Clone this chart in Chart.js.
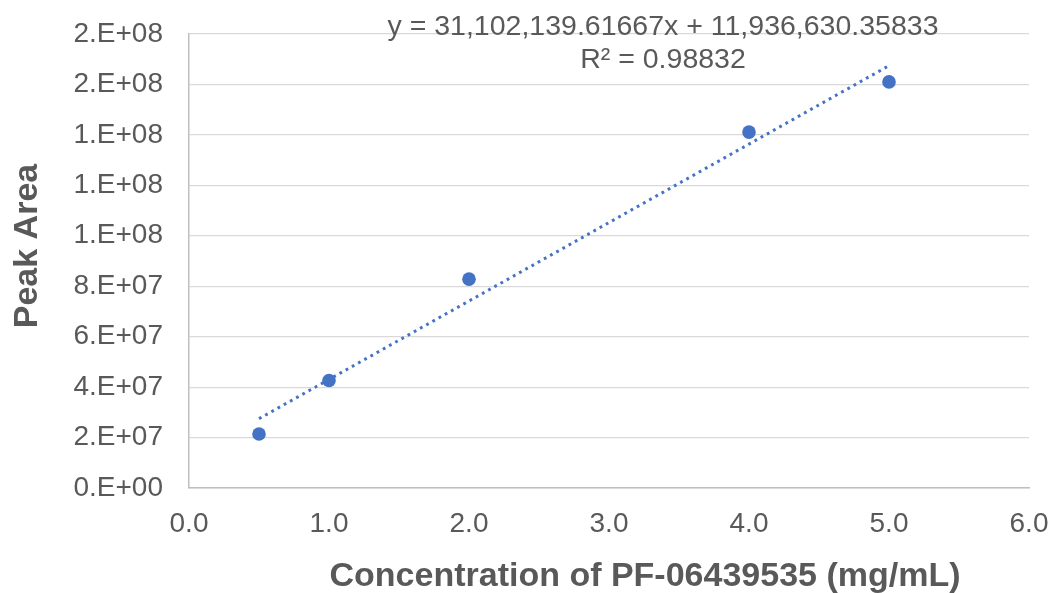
<!DOCTYPE html>
<html>
<head>
<meta charset="utf-8">
<script src="https://cdn.jsdelivr.net/npm/chart.js@4.4.1/dist/chart.umd.min.js"></script>
<style>
  html, body { margin: 0; padding: 0; background: #ffffff; }
  #chart { display: block; }
</style>
</head>
<body>
<canvas id="chart" width="1052" height="593"></canvas>
<script>
// Données
const concentrations = [0.5, 1.0, 2.0, 4.0, 5.0];
const peakAreas = [21400000, 42600000, 82800000, 141100000, 161000000];

// Courbe de tendance (équation affichée)
const trendSlope = 31102139.61667;
const trendIntercept = 11936630.35833;
const trendRange = [0.5, 5.0];
const trendLabel = 'y = 31,102,139.61667x + 11,936,630.35833';
const r2Label = 'R\u00B2 = 0.98832';

// Axes
const yTickStep = 20000000;
const yMax = 180000000;
const xMax = 6;
const xTitle = 'Concentration of PF-06439535 (mg/mL)';
const yTitle = 'Peak Area';

const markerColor = '#4472C4';
const textColor = '#595959';
const fontFamily = "'Liberation Sans', Arial, sans-serif";

// Format Excel "0.E+00"
function sciLabel(v) {
    if (v === 0) return '0.E+00';
    let exp = Math.floor(Math.log10(v));
    let m = Math.round(v / Math.pow(10, exp));
    if (m === 10) { m = 1; exp++; }
    return m + '.E+' + String(exp).padStart(2, '0');
}

const trendPoints = trendRange.map(x => ({ x: x, y: trendSlope * x + trendIntercept }));

// Équation et titres des axes
const textPlugin = {
    id: 'texts',
    afterDraw(chart) {
        const ctx = chart.ctx;
        ctx.save();
        ctx.fillStyle = textColor;
        ctx.textAlign = 'center';
        ctx.textBaseline = 'alphabetic';
        ctx.font = '28.5px ' + fontFamily;
        ctx.fillText(trendLabel, 663, 35);
        ctx.fillText(r2Label, 663, 68);

        ctx.font = 'bold 34px ' + fontFamily;
        ctx.textBaseline = 'middle';
        ctx.fillText(xTitle, 645, 577);

        ctx.translate(28, 246);
        ctx.rotate(-Math.PI / 2);
        ctx.fillText(yTitle, 0, 0);
        ctx.restore();
    }
};

const ctx = document.getElementById('chart').getContext('2d');
new Chart(ctx, {
    type: 'scatter',
    data: {
        datasets: [
            {
                label: 'Trend',
                data: trendPoints,
                showLine: true,
                borderColor: markerColor,
                borderWidth: 3,
                borderDash: [2.8, 4.3],
                pointRadius: 0,
                fill: false,
                order: 2
            },
            {
                label: 'Peak Area',
                data: concentrations.map((x, i) => ({ x: x, y: peakAreas[i] })),
                backgroundColor: markerColor,
                borderColor: markerColor,
                pointRadius: 6.8,
                pointBorderWidth: 0,
                showLine: false,
                order: 1
            }
        ]
    },
    options: {
        responsive: false,
        animation: false,
        devicePixelRatio: 1,
        layout: { padding: { top: 34, right: 23, left: 0, bottom: 0 } },
        plugins: {
            legend: { display: false },
            tooltip: { enabled: false },
            title: { display: false }
        },
        scales: {
            x: {
                type: 'linear',
                min: 0,
                max: xMax,
                ticks: {
                    stepSize: 1,
                    padding: 11,
                    color: textColor,
                    font: { family: fontFamily, size: 28 },
                    callback: v => v.toFixed(1)
                },
                grid: { display: false },
                border: { display: true, color: '#BFBFBF', width: 1.5 },
                afterFit: s => {
                    s.height = 105;
                    s.paddingLeft = 0;
                    s.paddingRight = 0;
                }
            },
            y: {
                type: 'linear',
                min: 0,
                max: yMax,
                ticks: {
                    stepSize: yTickStep,
                    padding: 26,
                    color: textColor,
                    font: { family: fontFamily, size: 28 },
                    callback: v => sciLabel(v)
                },
                grid: { color: '#D9D9D9', lineWidth: 1.2, drawTicks: false },
                border: { display: true, color: '#BFBFBF', width: 1.5 },
                afterFit: s => {
                    s.width = 189;
                    s.paddingTop = 0;
                    s.paddingBottom = 0;
                }
            }
        }
    },
    plugins: [textPlugin]
});
</script>
</body>
</html>
